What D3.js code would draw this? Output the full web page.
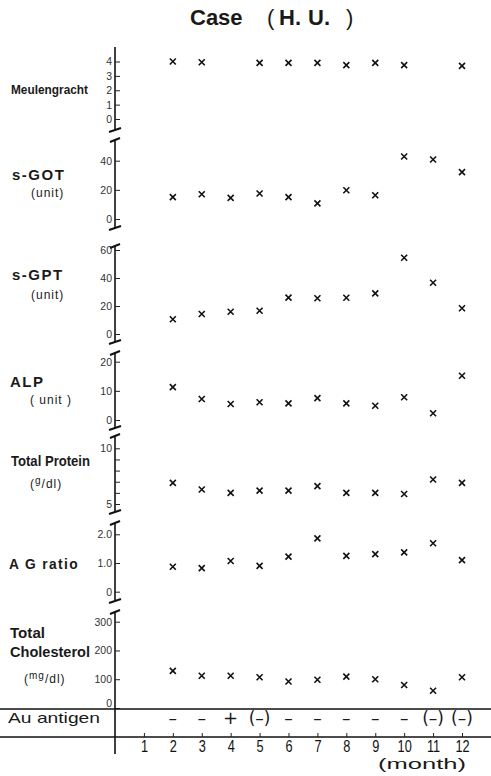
<!DOCTYPE html>
<html>
<head>
<meta charset="utf-8">
<script src="https://cdn.jsdelivr.net/npm/d3@7"></script>
<style>
  body { margin: 0; background: #fff; }
  text { fill: #1a1a1a; }
  .lab { font-family: 'Liberation Sans', sans-serif; font-weight: bold; font-size: 15px; }
  .big { font-family: 'Liberation Sans', sans-serif; font-weight: bold; font-size: 15px; letter-spacing: 1.5px; }
  .unit { font-family: 'Liberation Sans', sans-serif; font-size: 12px; letter-spacing: 1px; }
  .tick text { font-family: 'Liberation Sans', sans-serif; font-size: 10.5px; fill: #333; }
</style>
</head>
<body>
<script>

// months measured
var months = [2, 3, 4, 5, 6, 7, 8, 9, 10, 11, 12];
var monthTicks = [1, 2, 3, 4, 5, 6, 7, 8, 9, 10, 11, 12];

// values for each test (null = not measured)
var meulengracht = [4.0, 3.95, null, 3.9, 3.9, 3.9, 3.75, 3.9, 3.75, null, 3.7];
var sGOT = [15, 17, 14.5, 17.5, 15, 10.7, 19.7, 16.3, 42.9, 40.8, 32.2];
var sGPT = [10.5, 14.3, 15.9, 16.6, 26, 25.5, 25.9, 29, 54.5, 36.6, 18.4];
var alp = [11.3, 7.2, 5.5, 6.1, 5.7, 7.5, 5.7, 4.9, 7.8, 2.3, 15.2];
var totalProtein = [6.9, 6.3, 6.0, 6.2, 6.2, 6.6, 6.0, 6.0, 5.9, 7.2, 6.9];
var agRatio = [0.87, 0.82, 1.07, 0.9, 1.22, 1.86, 1.25, 1.31, 1.37, 1.69, 1.1];
var cholesterol = [129, 112, 112, 107, 92, 98, 109, 100, 80, 60, 107];
var auAntigen = ["–", "–", "+", "(–)", "–", "–", "–", "–", "–", "(–)", "(–)"];

// tick labels for each axis
var meulTicks = [0, 1, 2, 3, 4];
var gotTicks = [0, 20, 40];
var gptTicks = [0, 20, 40, 60];
var alpTicks = [0, 10, 20];
var protTicks = [5, 6, 7, 8, 9, 10];
var agTicks = [0, 1, 2];
var cholTicks = [0, 100, 200, 300];

var w = 491, h = 776;
var svg = d3.select("body").append("svg")
  .attr("width", w)
  .attr("height", h);

// month scale shared by all panels
var x = d3.scaleLinear().domain([0, 12]).range([115, 462]);

// panel layout: value->pixel reference points and axis extents
var intFmt = d3.format("d");
var panels = [
  { data: meulengracht, ticks: meulTicks, dom: [0, 4], rng: [119, 61.5], top: 47, bottom: 130, capTop: false },
  { data: sGOT, ticks: gotTicks, dom: [0, 40], rng: [219, 160.7], top: 140, bottom: 228, capTop: true },
  { data: sGPT, ticks: gptTicks, dom: [0, 60], rng: [334, 250], top: 246, bottom: 342, capTop: true },
  { data: alp, ticks: alpTicks, dom: [0, 20], rng: [420, 361.7], top: 353, bottom: 428, capTop: true },
  { data: totalProtein, ticks: protTicks, dom: [5, 10], rng: [504, 448.3], top: 436, bottom: 512, capTop: true,
    fmt: function(d) { return (d == 5 || d == 10) ? d : ""; } },
  { data: agRatio, ticks: agTicks, dom: [0, 2], rng: [591.7, 534.3], top: 523, bottom: 601, capTop: true,
    fmt: function(d) { return d == 0 ? "0" : d3.format(".1f")(d); } },
  { data: cholesterol, ticks: cholTicks, dom: [0, 300], rng: [708, 621.7], top: 612, bottom: 709, capTop: true, noBreak: true }
];

var ax = x(0);

panels.forEach(function(p, pi) {
  var y = d3.scaleLinear().domain(p.dom).range(p.rng);

  // axis line
  svg.append("line")
    .attr("x1", ax).attr("x2", ax)
    .attr("y1", p.top).attr("y2", p.bottom)
    .attr("stroke", "#111").attr("stroke-width", 1.6);

  var axis = d3.axisLeft(y)
    .tickValues(p.ticks)
    .tickFormat(p.fmt || intFmt)
    .tickSizeInner(-5)
    .tickSizeOuter(0)
    .tickPadding(3);

  var g = svg.append("g")
    .attr("transform", "translate(" + ax + ",0)")
    .call(axis);
  g.select(".domain").remove();
  g.selectAll(".tick line").attr("stroke", "#222").attr("stroke-width", 1);

  // cholesterol zero label sits just above the baseline
  if (p.noBreak) {
    g.selectAll(".tick text").filter(function(d) { return d == 0; }).attr("dy", "-0.1em");
  }

  // break marks
  if (p.capTop) {
    svg.append("line")
      .attr("x1", ax - 5).attr("y1", p.top + 2)
      .attr("x2", ax + 5).attr("y2", p.top - 2)
      .attr("stroke", "#111").attr("stroke-width", 2);
  }
  if (!p.noBreak) {
    svg.append("line")
      .attr("x1", ax - 6).attr("y1", p.bottom + 2)
      .attr("x2", ax + 6).attr("y2", p.bottom - 2)
      .attr("stroke", "#111").attr("stroke-width", 2);
  }

  // x markers
  var pts = months.map(function(m, i) { return { m: m, v: p.data[i] }; })
    .filter(function(d) { return d.v != null; });
  svg.selectAll(null)
    .data(pts)
    .enter()
    .append("path")
    .attr("d", function(d) {
      var cx = x(d.m), cy = y(d.v), s = 3;
      return "M" + (cx - s) + "," + (cy - s) + "L" + (cx + s) + "," + (cy + s) +
             "M" + (cx - s) + "," + (cy + s) + "L" + (cx + s) + "," + (cy - s);
    })
    .attr("stroke", "#111")
    .attr("stroke-width", 1.6)
    .attr("fill", "none");
});

// title
var title = svg.append("g").attr("font-family", "'Liberation Sans', sans-serif").attr("font-weight", "bold").attr("font-size", 22);
title.append("text").attr("x", 190).attr("y", 25).text("Case");
title.append("text").attr("x", 267).attr("y", 25).attr("font-weight", "normal").attr("font-size", 22).text("(");
title.append("text").attr("x", 279).attr("y", 25).text("H.");
title.append("text").attr("x", 308).attr("y", 25).text("U.");
title.append("text").attr("x", 346).attr("y", 25).attr("font-weight", "normal").attr("font-size", 22).text(")");

// row labels
function squeeze(sel, len) {
  return sel.attr("textLength", len).attr("lengthAdjust", "spacingAndGlyphs");
}
squeeze(svg.append("text").attr("class", "lab").attr("x", 11).attr("y", 94)
  .style("font-size", "13.5px").text("Meulengracht"), 77);

svg.append("text").attr("class", "big").attr("x", 12).attr("y", 180).text("s-GOT");
svg.append("text").attr("class", "unit").attr("x", 31).attr("y", 197).text("(unit)");

svg.append("text").attr("class", "big").attr("x", 12).attr("y", 280).text("s-GPT");
svg.append("text").attr("class", "unit").attr("x", 31).attr("y", 299).text("(unit)");

svg.append("text").attr("class", "big").attr("x", 10).attr("y", 387).text("ALP");
svg.append("text").attr("class", "unit").attr("x", 30).attr("y", 404).text("( unit )");

squeeze(svg.append("text").attr("class", "lab").attr("x", 11).attr("y", 466).text("Total Protein"), 79);
var gdl = svg.append("text").attr("class", "unit").attr("x", 30).attr("y", 488);
gdl.append("tspan").text("(");
gdl.append("tspan").attr("font-size", 10).attr("dy", -4).text("g");
gdl.append("tspan").attr("dy", 4).text("/dl)");

squeeze(svg.append("text").attr("class", "big").attr("x", 9).attr("y", 569).text("A  G  ratio"), 70);

squeeze(svg.append("text").attr("class", "lab").attr("x", 10).attr("y", 638).text("Total"), 35);
squeeze(svg.append("text").attr("class", "lab").attr("x", 10).attr("y", 657).text("Cholesterol"), 80);
var mgdl = svg.append("text").attr("class", "unit").attr("x", 24).attr("y", 683);
mgdl.append("tspan").text("(");
mgdl.append("tspan").attr("font-size", 10).attr("dy", -4).text("mg");
mgdl.append("tspan").attr("dy", 4).text("/dl)");

// Au antigen row
svg.append("line").attr("x1", 0).attr("x2", w).attr("y1", 709).attr("y2", 709)
  .attr("stroke", "#111").attr("stroke-width", 1.3);
svg.append("line").attr("x1", 0).attr("x2", w).attr("y1", 737).attr("y2", 737)
  .attr("stroke", "#111").attr("stroke-width", 1.3);
svg.append("line").attr("x1", ax).attr("x2", ax).attr("y1", 709).attr("y2", 754)
  .attr("stroke", "#111").attr("stroke-width", 1.6);

squeeze(svg.append("text").attr("x", 8).attr("y", 723)
  .attr("font-family", "'Liberation Sans', sans-serif").attr("font-size", 15)
  .text("Au antigen"), 92);

svg.selectAll(".au")
  .data(months)
  .enter()
  .append("text")
  .attr("class", "au")
  .attr("x", function(d) { return x(d); })
  .attr("y", 724)
  .attr("text-anchor", "middle")
  .attr("font-family", "'DejaVu Sans', sans-serif")
  .attr("font-size", function(d, i) { return auAntigen[i] == "+" ? 18 : 17; })
  .text(function(d, i) { return auAntigen[i]; });

// month axis
var mAxis = d3.axisBottom(x)
  .tickValues(monthTicks)
  .tickSizeInner(-4)
  .tickSizeOuter(0)
  .tickPadding(3);
var mg = svg.append("g")
  .attr("transform", "translate(0,737)")
  .call(mAxis);
mg.select(".domain").remove();
mg.selectAll(".tick line").attr("stroke", "#222");
mg.selectAll(".tick text")
  .attr("font-family", "'DejaVu Sans', sans-serif")
  .attr("transform", "scale(0.75,1)")
  .style("font-size", "17px")
  .style("fill", "#111");

squeeze(svg.append("text").attr("x", 378).attr("y", 769)
  .attr("font-family", "'Liberation Sans', sans-serif").attr("font-size", 14)
  .text("(month)"), 88);

</script>
</body>
</html>
